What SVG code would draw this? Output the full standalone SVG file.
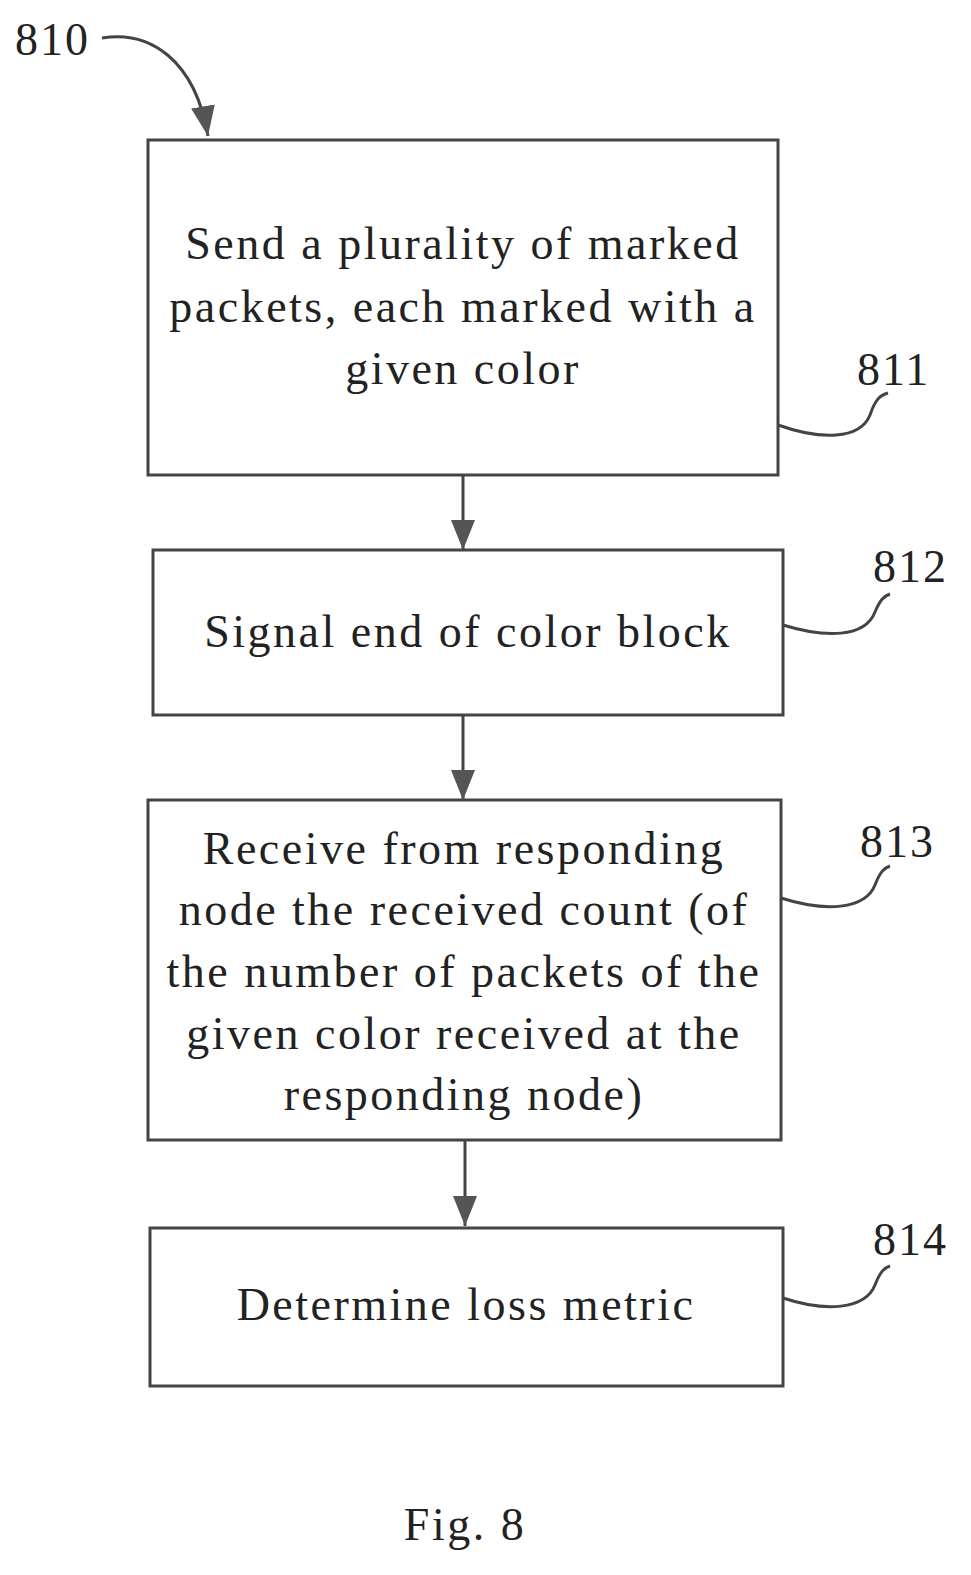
<svg xmlns="http://www.w3.org/2000/svg" width="971" height="1575" viewBox="0 0 971 1575">
<defs>
<marker id="ah2" markerWidth="30" markerHeight="24" refX="30" refY="12" orient="auto" markerUnits="userSpaceOnUse" viewBox="0 0 30 24"><path d="M0,0 L30,12 L0,24 Z" fill="#555"/></marker>
</defs>
<style>
.box{fill:#fff;stroke:#444;stroke-width:3}
.t{font-family:"Liberation Serif",serif;font-size:46px;letter-spacing:2.5px;fill:#222;text-anchor:middle}
.lbl{font-family:"Liberation Serif",serif;font-size:46px;letter-spacing:2px;fill:#222}
.ld{fill:none;stroke:#444;stroke-width:3}
</style>
<rect width="971" height="1575" fill="#fff"/>
<g id="n811"><rect class="box" x="148" y="140" width="630" height="335"/>
<text class="t" x="463" y="259">Send a plurality of marked</text>
<text class="t" x="463" y="322">packets, each marked with a</text>
<text class="t" x="463" y="384">given color</text></g>
<g id="n812"><rect class="box" x="153" y="550" width="630" height="165"/>
<text class="t" x="468" y="647">Signal end of color block</text></g>
<g id="n813"><rect class="box" x="148" y="800" width="633" height="340"/>
<text class="t" x="464" y="864">Receive from responding</text>
<text class="t" x="464" y="925">node the received count (of</text>
<text class="t" x="464" y="987">the number of packets of the</text>
<text class="t" x="464" y="1049">given color received at the</text>
<text class="t" x="464" y="1110">responding node)</text></g>
<g id="n814"><rect class="box" x="150" y="1228" width="633" height="158"/>
<text class="t" x="466" y="1320">Determine loss metric</text></g>
<g id="labels">
<text class="lbl" x="15" y="55">810</text>
<text class="lbl" x="857" y="385">811</text>
<text class="lbl" x="873" y="582">812</text>
<text class="lbl" x="860" y="857">813</text>
<text class="lbl" x="873" y="1255">814</text>
<text class="t" x="465" y="1540">Fig. 8</text>
</g>
<g id="connectors">
<line class="ld" x1="463" y1="475" x2="463" y2="550" marker-end="url(#ah2)"/>
<line class="ld" x1="463" y1="715" x2="463" y2="800" marker-end="url(#ah2)"/>
<line class="ld" x1="465" y1="1140" x2="465" y2="1226" marker-end="url(#ah2)"/>
<path class="ld" d="M102,38 C150,30 195,60 208,136" marker-end="url(#ah2)"/>
<path class="ld" d="M778,425 C820,440 860,440 870,415 C875,400 880,395 888,393"/>
<path class="ld" d="M783,625 C825,638 865,638 875,612 C880,600 884,596 890,594"/>
<path class="ld" d="M781,898 C825,912 865,910 875,885 C880,872 884,868 890,866"/>
<path class="ld" d="M783,1298 C825,1312 865,1310 875,1285 C880,1272 884,1268 890,1266"/>
</g>
</svg>
